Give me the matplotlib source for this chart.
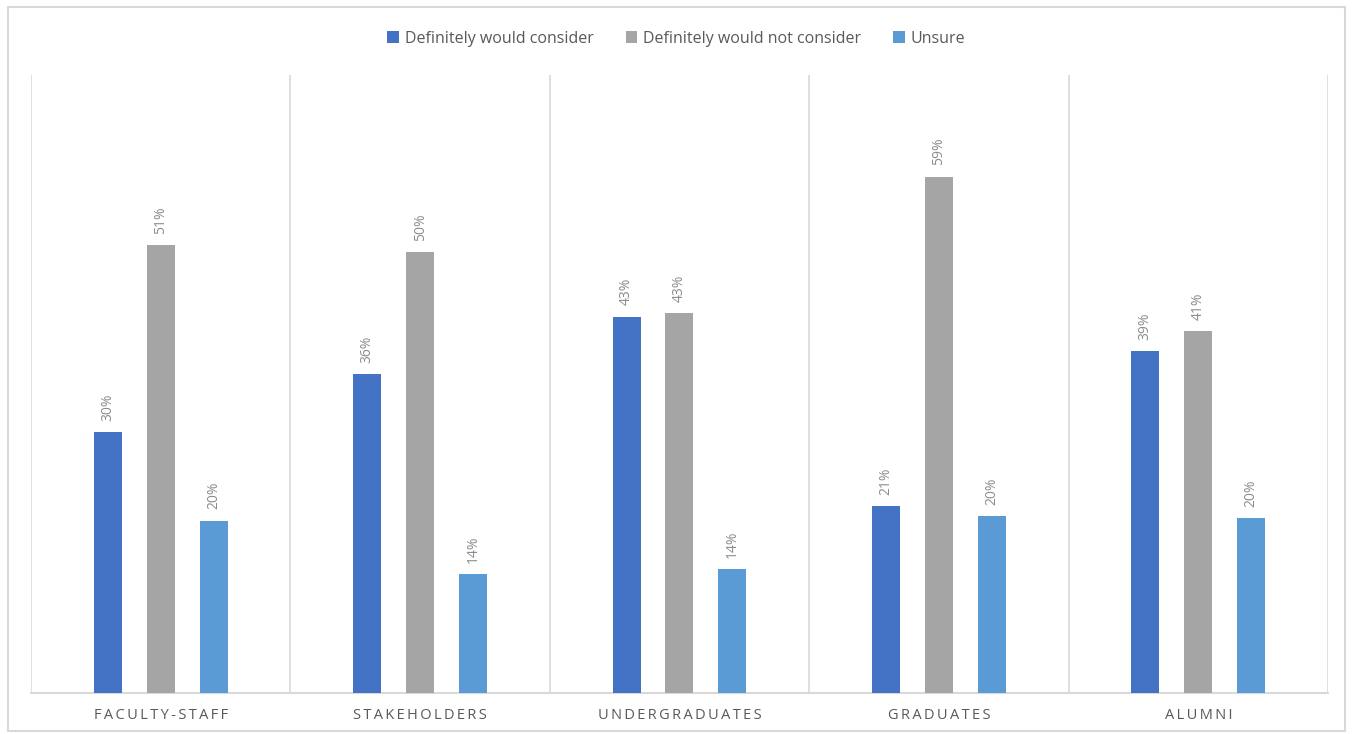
import numpy as np
import matplotlib.pyplot as plt
from matplotlib.patches import Rectangle

plt.rcParams['font.family'] = ['Open Sans', 'DejaVu Sans']

categories = ['Faculty-Staff', 'Stakeholders', 'Undergraduates', 'Graduates', 'Alumni']
series_names = ['Definitely would consider', 'Definitely would not consider', 'Unsure']
would = [0.298, 0.364, 0.430, 0.214, 0.391]
would_not = [0.512, 0.504, 0.434, 0.590, 0.413]
unsure = [0.197, 0.136, 0.142, 0.202, 0.200]

colors = ['#4472c4', '#a5a5a5', '#5b9bd5']
grid_col = '#d9d9d9'
text_col = '#595959'


def spaced(s):
    return '\u2009'.join(s.upper())


fig = plt.figure(figsize=(13.53, 7.34), dpi=100)
ax = fig.add_axes([0.0229, 0.0559, 0.9586, 0.8419])

x = np.arange(len(categories))
offsets = [-0.204, 0.0, 0.204]
width = 0.108
for vals, off, col, name in zip([would, would_not, unsure], offsets, colors, series_names):
    bars = ax.bar(x + off, vals, width, color=col, label=name, zorder=3)
    for b, v in zip(bars, vals):
        ax.annotate(f'{round(v * 100):.0f}%', (b.get_x() + b.get_width() / 2, v),
                    xytext=(0, 8), textcoords='offset points', rotation=90,
                    ha='center', va='bottom', fontsize=10, color='#8c8c8c')

ax.set_xlim(-0.5, len(categories) - 0.5)
ax.set_ylim(0, 0.706)
ax.set_yticks([])
for b in np.arange(-0.5, len(categories), 1.0):
    ax.axvline(b, color=grid_col, lw=1.2, zorder=1)
for s in ['top', 'left', 'right']:
    ax.spines[s].set_visible(False)
ax.spines['bottom'].set_color(grid_col)
ax.spines['bottom'].set_linewidth(1.5)
ax.set_xticks(x)
ax.set_xticklabels([spaced(c) for c in categories], fontsize=10.5, color=text_col)
ax.tick_params(axis='x', length=0, pad=11)

leg = fig.legend(loc='upper center', bbox_to_anchor=(0.5, 0.978), ncol=3, frameon=False,
                 fontsize=11.5, handlelength=0.7, handleheight=0.7, handletextpad=0.4,
                 columnspacing=2.0)
for t in leg.get_texts():
    t.set_color(text_col)

fig.patches.append(Rectangle((0.006, 0.004), 0.988, 0.987, transform=fig.transFigure,
                             fill=False, edgecolor=grid_col, lw=1.5))

fig.savefig('out.png', dpi=100)
